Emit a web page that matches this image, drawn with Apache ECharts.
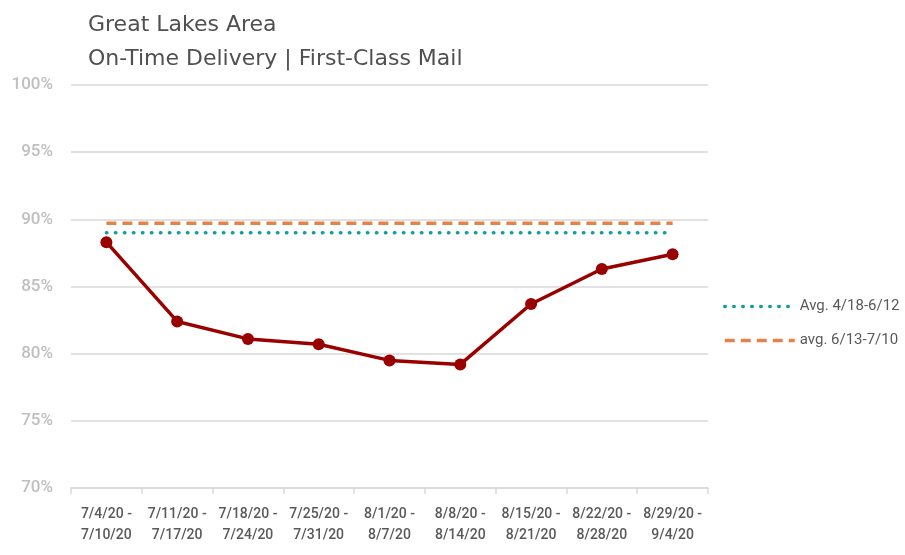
<!DOCTYPE html>
<html>
<head>
<meta charset="utf-8">
<script src="https://cdn.jsdelivr.net/npm/echarts@6/dist/echarts.min.js"></script>
<style>
html,body{margin:0;padding:0;background:#fff;}
#chart{width:905px;height:555px;}
</style>
</head>
<body>
<div id="chart"></div>
<script>
const categories = ['7/4/20 -\n7/10/20','7/11/20 -\n7/17/20','7/18/20 -\n7/24/20','7/25/20 -\n7/31/20','8/1/20 -\n8/7/20','8/8/20 -\n8/14/20','8/15/20 -\n8/21/20','8/22/20 -\n8/28/20','8/29/20 -\n9/4/20'];
const onTime = [88.3, 82.4, 81.1, 80.7, 79.5, 79.2, 83.7, 86.3, 87.4];
const avgAprJun = [89.0, 89.0, 89.0, 89.0, 89.0, 89.0, 89.0, 89.0, 89.0];
const avgJunJul = [89.7, 89.7, 89.7, 89.7, 89.7, 89.7, 89.7, 89.7, 89.7];
const yTicks = { min: 70, max: 100, interval: 5 };

const FONT = 'Roboto, "Noto Sans", sans-serif';
const TITLE_FONT = '"DejaVu Sans", sans-serif';
const chart = echarts.init(document.getElementById('chart'));
chart.setOption({
  animation: false,
  textStyle: { fontFamily: FONT },
  title: {
    text: 'Great Lakes Area\nOn-Time Delivery | First-Class Mail',
    left: 83, top: 3,
    textStyle: { fontFamily: TITLE_FONT, fontSize: 22, fontWeight: 'normal', color: '#505050', lineHeight: 34 }
  },
  legend: {
    orient: 'vertical', left: 718, top: 294,
    itemWidth: 70, itemHeight: 14, itemGap: 19,
    itemStyle: { opacity: 0 },
    lineStyle: { width: 3.5 },
    textStyle: { fontFamily: FONT, fontSize: 15, color: '#595959' },
    data: ['Avg. 4/18-6/12', 'avg. 6/13-7/10']
  },
  grid: { left: 71, right: 197, top: 85, bottom: 67 },
  xAxis: {
    type: 'category', data: categories, boundaryGap: true,
    axisLine: { lineStyle: { color: '#d9d9d9', width: 1.5 } },
    axisTick: { show: true, length: 6, lineStyle: { color: '#d9d9d9', width: 1.5 } },
    axisLabel: { color: '#595959', fontSize: 14, fontWeight: 500, lineHeight: 21, margin: 16, interval: 0, fontFamily: FONT }
  },
  yAxis: {
    type: 'value', min: yTicks.min, max: yTicks.max, interval: yTicks.interval,
    axisLine: { show: false }, axisTick: { show: false },
    splitLine: { lineStyle: { color: '#d9d9d9', width: 1.5 } },
    axisLabel: { color: '#bfbfbf', fontSize: 17, fontWeight: 500, margin: 18, formatter: '{value}%', fontFamily: FONT }
  },
  series: [
    {
      name: 'On-Time', type: 'line', data: onTime, z: 5,
      symbol: 'circle', symbolSize: 12,
      lineStyle: { color: '#990000', width: 3.5 },
      itemStyle: { color: '#990000' }
    },
    {
      name: 'Avg. 4/18-6/12', type: 'line', data: avgAprJun, symbol: 'none',
      lineStyle: { color: '#129e9a', width: 3.5, type: [0.5, 8.5], cap: 'round' },
      itemStyle: { color: '#129e9a' }
    },
    {
      name: 'avg. 6/13-7/10', type: 'line', data: avgJunJul, symbol: 'none',
      lineStyle: { color: '#e3834b', width: 3.5, type: [10, 6] },
      itemStyle: { color: '#e3834b' }
    }
  ]
});
</script>
</body>
</html>
